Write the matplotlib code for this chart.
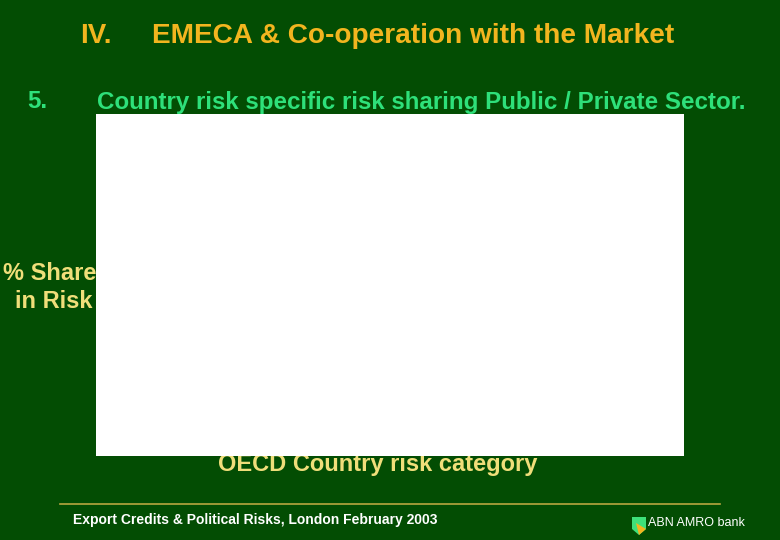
import matplotlib
matplotlib.use("Agg")
import matplotlib.pyplot as plt
from matplotlib.patches import Polygon
from matplotlib.lines import Line2D

# Chart content (the plot area in the reference is empty)
categories = []
public_share = []
private_share = []

title_num = "IV."
title_text = "EMECA & Co-operation with the Market"
sub_num = "5."
sub_text = "Country risk specific risk sharing Public / Private Sector."
ylabel_lines = ["% Share", "in Risk"]
xlabel_text = "OECD Country risk category"
footer_text = "Export Credits & Political Risks, London February 2003"
brand_text = "ABN AMRO bank"

BG = "#034d03"
W, H = 780, 540
FONT = ["Liberation Sans", "DejaVu Sans"]

fig = plt.figure(figsize=(W / 100, H / 100), dpi=100, facecolor=BG)

def fx(x):
    return x / W

def fy(y):
    return 1 - y / H

# Plot area (white, no visible data)
ax = fig.add_axes([fx(96), fy(456), fx(684) - fx(96), (456 - 114) / H])
ax.set_facecolor("white")
if categories:
    ax.bar(range(len(categories)), public_share)
for s in ax.spines.values():
    s.set_visible(False)
ax.set_xticks([])
ax.set_yticks([])

# Titles
fig.text(fx(80), fy(36), title_num, color="#f2b51f", fontsize=20, fontweight="bold",
         family=FONT, ha="left", va="center")
fig.text(fx(152), fy(36), title_text, color="#f2b51f", fontsize=20.2, fontweight="bold",
         family=FONT, ha="left", va="center")
fig.text(fx(27), fy(102), sub_num, color="#2ee07a", fontsize=17.4, fontweight="bold",
         family=FONT, ha="left", va="center")
fig.text(fx(97), fy(102), sub_text, color="#2ee07a", fontsize=17.4, fontweight="bold",
         family=FONT, ha="left", va="center")

# Axis labels (partly hidden behind plot area)
fig.text(fx(50), fy(274), ylabel_lines[0], color="#f0de7a", fontsize=17, fontweight="bold",
         family=FONT, ha="center", va="center", zorder=-1)
fig.text(fx(54), fy(302), ylabel_lines[1], color="#f0de7a", fontsize=17, fontweight="bold",
         family=FONT, ha="center", va="center", zorder=-1)
fig.text(fx(378), fy(465), xlabel_text, color="#f0de7a", fontsize=17, fontweight="bold",
         family=FONT, ha="center", va="center", zorder=-1)

# Footer line
fig.add_artist(Line2D([fx(60), fx(720)], [fy(504), fy(504)], color="#b8a640", lw=1.2))
fig.text(fx(73), fy(520), footer_text, color="white", fontsize=10, fontweight="bold",
         family=FONT, ha="left", va="center")
fig.text(fx(648), fy(523), brand_text, color="white", fontsize=9,
         family=FONT, ha="left", va="center")

# Logo shield
shield = Polygon([[fx(632), fy(517)], [fx(646), fy(517)], [fx(646), fy(529)],
                  [fx(639), fy(535)], [fx(632), fy(529)]], closed=True,
                 facecolor="#3ee07a", edgecolor="none", transform=fig.transFigure)
fig.add_artist(shield)
tri = Polygon([[fx(636), fy(523)], [fx(646), fy(529)], [fx(639), fy(535)]], closed=True,
              facecolor="#f2b51f", edgecolor="none", transform=fig.transFigure)
fig.add_artist(tri)

fig.savefig("out.png", dpi=100, facecolor=BG)
